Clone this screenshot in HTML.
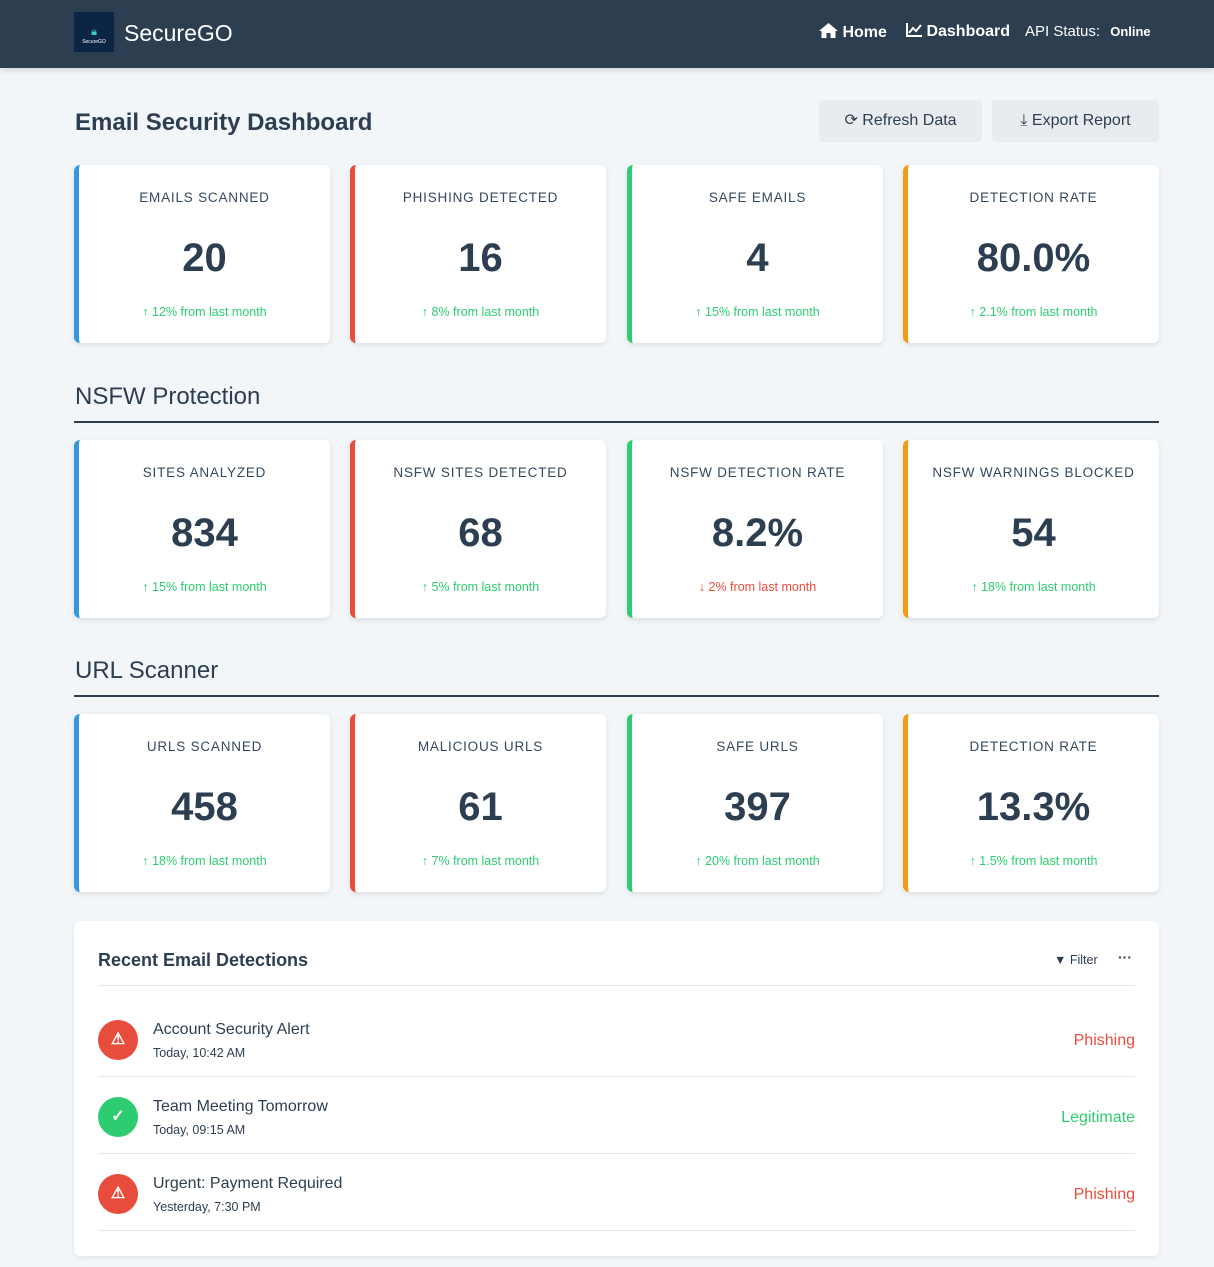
<!DOCTYPE html>
<html><head><meta charset="utf-8"><style>
*{box-sizing:border-box;margin:0;padding:0}
body{width:1214px;height:1267px;background:#f3f6f9;font-family:"Liberation Sans",sans-serif;color:#2c3e50;position:relative;overflow:hidden}
.nav{position:absolute;left:0;top:0;width:1214px;height:68px;background:#2c3e50;box-shadow:0 2px 6px rgba(0,0,0,.15)}
.logo{position:absolute;left:74px;top:12px;width:40px;height:40px;background:#0b2545;color:#fff;font-size:5px;text-align:center;padding-top:14px}
.brand{position:absolute;left:124px;top:20px;color:#fff;font-size:23px}
.navlink{position:absolute;top:23px;color:#fff;font-size:16px;font-weight:bold}
.abs{position:absolute}
h1{position:absolute;left:75px;top:109px;font-size:24px;font-weight:bold}
.btn{position:absolute;top:100px;height:42px;background:#e9ecef;border-radius:4px;font-size:16px;color:#2c3e50;text-align:center;line-height:42px}
.card{position:absolute;width:256px;height:178px;background:#fff;border-radius:6px;box-shadow:0 2px 6px rgba(0,0,0,.1);text-align:center}
.card .t{position:absolute;left:0;right:0;top:25px;font-size:13.5px;letter-spacing:0.8px;color:#34495e}
.card .v{position:absolute;left:0;right:0;top:71px;font-size:40px;font-weight:bold}
.card .c{position:absolute;left:0;right:0;top:140px;font-size:12.5px;color:#2ecc71}
.card .c.dn{color:#e74c3c}
.sec{position:absolute;left:75px;font-size:24px}
.rule{position:absolute;left:74px;width:1085px;height:2px;background:#2c3e50}
.panel{position:absolute;left:74px;top:921px;width:1085px;height:335px;background:#fff;border-radius:6px;box-shadow:0 2px 6px rgba(0,0,0,.08)}
.row{position:absolute;left:24px;width:1037px;height:77px;border-bottom:1px solid #e8e8e8}
.ic{position:absolute;left:0;top:20px;width:40px;height:40px;border-radius:50%;color:#fff;text-align:center;line-height:40px;font-size:16px;font-weight:bold}
.rt{position:absolute;left:55px;top:21px;font-size:16px}
.rd{position:absolute;left:55px;top:46px;font-size:12.5px}
.rs{position:absolute;right:0;top:32px;font-size:16px}
</style></head><body>
<div class="nav">
<div class="logo"><span style="color:#3cc;font-size:11px">🔒︎</span><br>SecureGO</div>
<div class="brand">SecureGO</div>
<div class="navlink" style="left:819px"><svg width="19" height="15" viewBox="0 0 19 15" style="vertical-align:-1px"><path d="M9.5 0L0 8h2.5v7h5v-5h4v5h5V8H19z" fill="#fff"/></svg> Home</div>
<div class="navlink" style="left:906px"><svg width="16" height="14" viewBox="0 0 16 14" style="vertical-align:-1px"><path d="M1 0v13h15" stroke="#fff" stroke-width="2" fill="none"/><path d="M3 10l4-5 3 3 5-6" stroke="#fff" stroke-width="2" fill="none"/></svg> Dashboard</div>
<div class="navlink" style="left:1025px;font-weight:normal;font-size:15px">API Status: <b style="font-size:13px;margin-left:6px">Online</b></div>
</div>
<h1>Email Security Dashboard</h1>
<div class="btn" style="left:819px;width:163px">⟳ Refresh Data</div>
<div class="btn" style="left:992px;width:167px">⤓ Export Report</div>

<div id="cards"></div>

<div class="sec" style="top:383px">NSFW Protection</div>
<div class="rule" style="top:421px"></div>
<div class="sec" style="top:657px">URL Scanner</div>
<div class="rule" style="top:695px"></div>

<div class="panel">
<div class="abs" style="left:24px;top:29px;font-size:18px;font-weight:bold">Recent Email Detections</div>
<div class="abs" style="left:980px;top:32px;font-size:12.5px">▼ Filter</div>
<div class="abs" style="left:1044px;top:28px;font-size:14px;font-weight:bold">···</div>
<div class="abs" style="left:24px;top:64px;width:1037px;height:1px;background:#e8e8e8"></div>
<div class="row" style="top:79px"><div class="ic" style="background:#e74c3c">⚠</div><div class="rt">Account Security Alert</div><div class="rd">Today, 10:42 AM</div><div class="rs" style="color:#e74c3c">Phishing</div></div>
<div class="row" style="top:156px"><div class="ic" style="background:#2ecc71">✓</div><div class="rt">Team Meeting Tomorrow</div><div class="rd">Today, 09:15 AM</div><div class="rs" style="color:#2ecc71">Legitimate</div></div>
<div class="row" style="top:233px"><div class="ic" style="background:#e74c3c">⚠</div><div class="rt">Urgent: Payment Required</div><div class="rd">Yesterday, 7:30 PM</div><div class="rs" style="color:#e74c3c">Phishing</div></div>
</div>
<script>
const titles=["EMAILS SCANNED","PHISHING DETECTED","SAFE EMAILS","DETECTION RATE","SITES ANALYZED","NSFW SITES DETECTED","NSFW DETECTION RATE","NSFW WARNINGS BLOCKED","URLS SCANNED","MALICIOUS URLS","SAFE URLS","DETECTION RATE"];
const values=["20","16","4","80.0%","834","68","8.2%","54","458","61","397","13.3%"];
const changes=["12%","8%","15%","2.1%","15%","5%","2%","18%","18%","7%","20%","1.5%"];
const down=[0,0,0,0,0,0,1,0,0,0,0,0];
const colors=["#3498db","#e74c3c","#2ecc71","#f39c12"];
const lefts=[74,350,627,903], tops=[165,440,714];
const wrap=document.getElementById('cards');
titles.forEach((t,i)=>{
 const d=document.createElement('div');
 d.className='card';
 
 
 d.style.left=lefts[i%4]+'px';d.style.top=tops[Math.floor(i/4)]+'px';
 d.style.borderLeft='5px solid '+colors[i%4];
 d.innerHTML='<div class="t">'+t+'</div><div class="v">'+values[i]+'</div><div class="c'+(down[i]?' dn':'')+'">'+(down[i]?'↓':'↑')+' '+changes[i]+' from last month</div>';
 wrap.appendChild(d);
});
</script>
</body></html>
